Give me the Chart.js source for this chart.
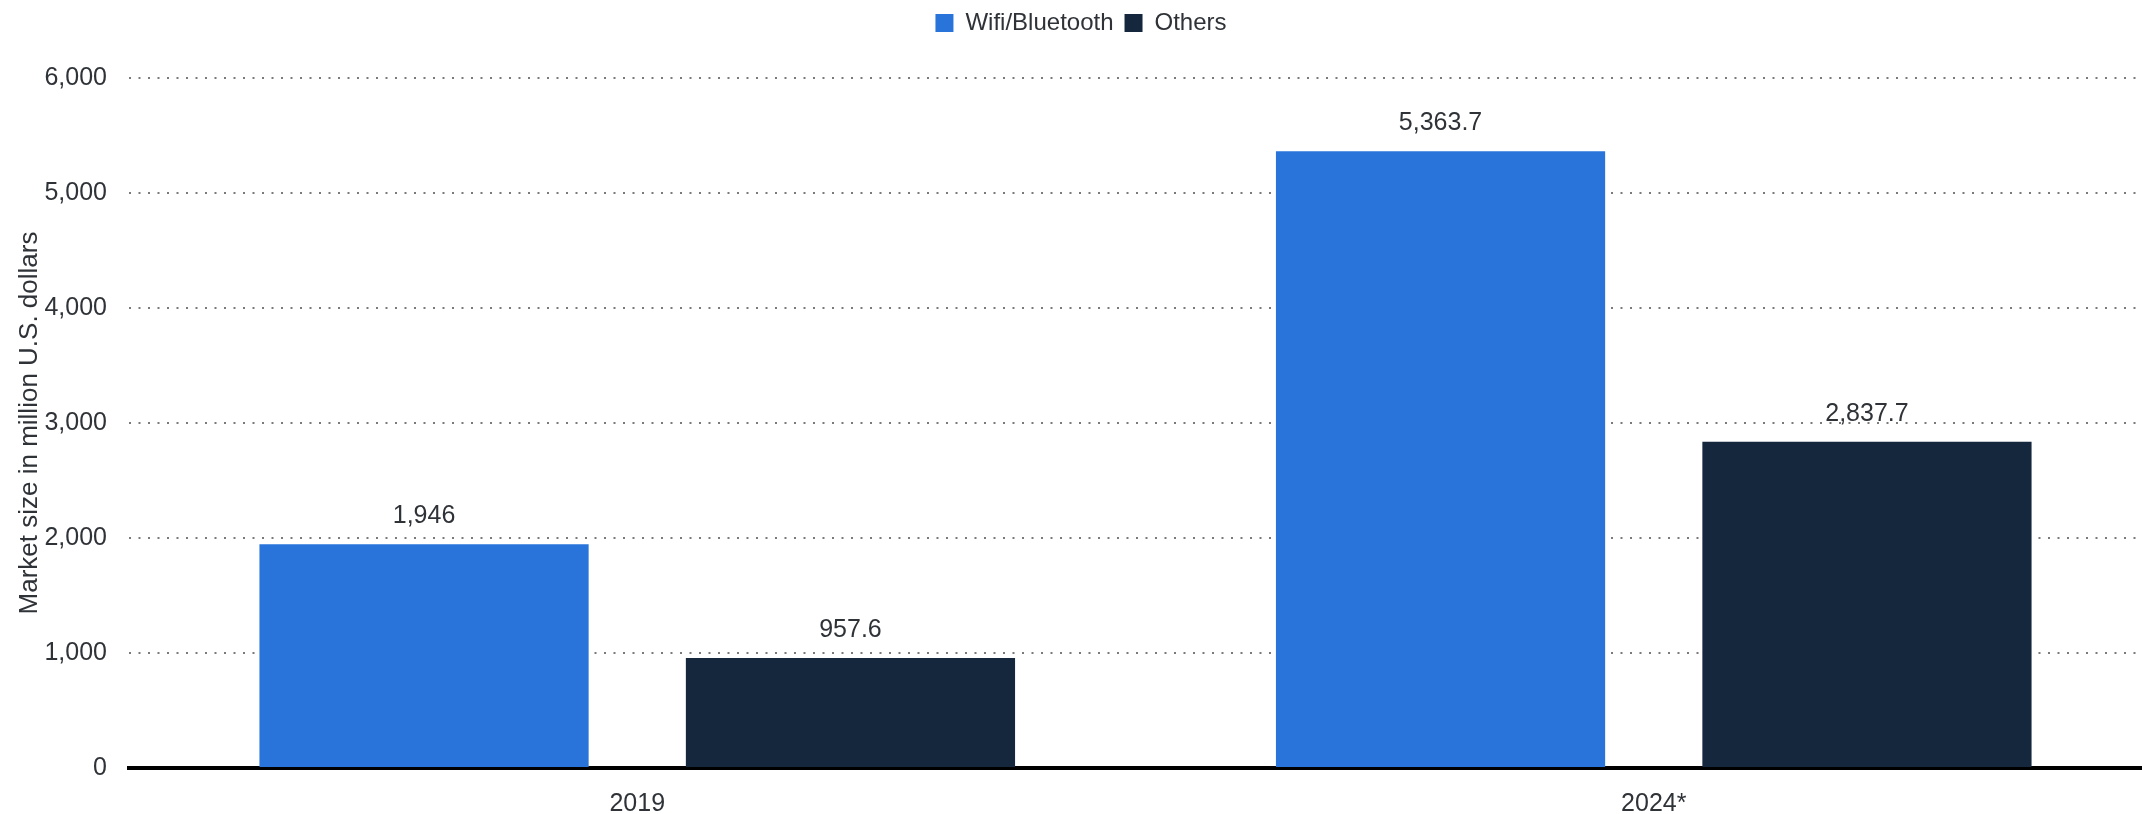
<!DOCTYPE html>
<html>
<head>
<meta charset="utf-8">
<script src="https://cdn.jsdelivr.net/npm/chart.js@4.4.0/dist/chart.umd.min.js"></script>
<style>
html, body { margin: 0; padding: 0; background: #fff; overflow: hidden; }
#chart { display: block; }
</style>
</head>
<body>
<canvas id="chart" width="2162" height="814"></canvas>
<script>
const years = ['2019', '2024*'];
const wifiBluetooth = [1946, 5363.7];
const others = [957.6, 2837.7];
const seriesNames = ['Wifi/Bluetooth', 'Others'];
const yMin = 0;
const yMax = 6000;
const yStep = 1000;

const FONT = '"Liberation Sans", Arial, sans-serif';
const TEXT = '#2f3338';

// value labels above each bar
const barLabels = {
	id: 'barLabels',
	afterDatasetsDraw(chart) {
		const ctx = chart.ctx;
		ctx.save();
		ctx.font = '25px ' + FONT;
		ctx.fillStyle = TEXT;
		ctx.textAlign = 'center';
		ctx.textBaseline = 'middle';
		chart.data.datasets.forEach((ds, i) => {
			chart.getDatasetMeta(i).data.forEach((bar, j) => {
				ctx.fillText(ds.data[j].toLocaleString('en-US'), bar.x, bar.y - 28);
			});
		});
		ctx.restore();
	}
};

// leave room between legend and plot
const legendSpace = {
	id: 'legendSpace',
	afterInit(chart) {
		const legend = chart.legend;
		const fit = legend.fit;
		legend.fit = function () {
			fit.call(this);
			this.height = 78;
		};
	}
};

new Chart(document.getElementById('chart'), {
	type: 'bar',
	data: {
		labels: years,
		datasets: [
			{
				label: seriesNames[0],
				data: wifiBluetooth,
				backgroundColor: '#2874DB',
				borderWidth: 0,
				categoryPercentage: 0.839,
				barPercentage: 0.772
			},
			{
				label: seriesNames[1],
				data: others,
				backgroundColor: '#15273D',
				borderWidth: 0,
				categoryPercentage: 0.839,
				barPercentage: 0.772
			}
		]
	},
	options: {
		responsive: false,
		animation: false,
		layout: { padding: 0 },
		plugins: {
			legend: {
				position: 'top',
				labels: {
					boxWidth: 18,
					boxHeight: 18,
					padding: 11,
					color: TEXT,
					font: { family: FONT, size: 24 }
				}
			},
			tooltip: { enabled: false }
		},
		scales: {
			x: {
				grid: { display: false },
				border: { display: true, color: '#000', width: 4 },
				ticks: {
					color: TEXT,
					padding: 13,
					font: { family: FONT, size: 25 }
				},
				afterFit(scale) {
					scale.height = 46;
				}
			},
			y: {
				min: yMin,
				max: yMax,
				grid: {
					drawTicks: false,
					lineWidth: 2,
					color: ctx => (ctx.tick && ctx.tick.value === 0 ? 'rgba(0,0,0,0)' : '#7a7a7a')
				},
				border: { display: false, dash: [2, 7.5] },
				ticks: {
					stepSize: yStep,
					color: TEXT,
					padding: 22,
					font: { family: FONT, size: 25 },
					callback: v => v.toLocaleString('en-US')
				},
				title: {
					display: true,
					text: 'Market size in million U.S. dollars',
					color: TEXT,
					font: { family: FONT, size: 26 },
					padding: { top: 14, bottom: 0 }
				},
				afterFit(scale) {
					scale.width = 129;
				}
			}
		}
	},
	plugins: [barLabels, legendSpace]
});
</script>
</body>
</html>
